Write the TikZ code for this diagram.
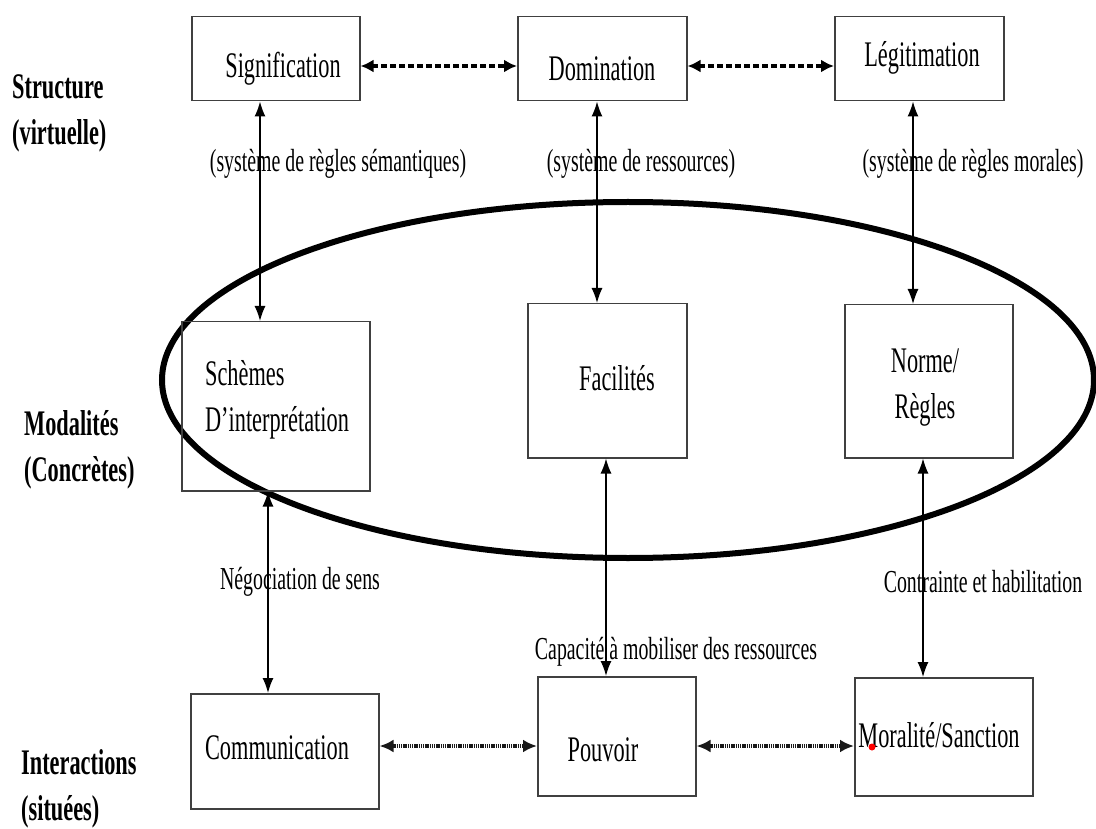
\documentclass[tikz,border=0pt]{standalone}
\usepackage{fontspec}
\setmainfont{Liberation Serif}[FakeStretch=0.62]
\usetikzlibrary{arrows.meta}
\begin{document}
\begin{tikzpicture}[x=1pt,y=-1pt,
  box/.style={draw=black!75, line width=1.5pt, inner sep=0pt, anchor=north west},
  lbl/.style={inner sep=0pt, font=\fontsize{36}{46}\selectfont, align=left},
  captxt/.style={inner sep=0pt, font=\fontsize{32}{40}\selectfont},
  side/.style={inner sep=0pt, anchor=west, font=\fontsize{36}{46}\selectfont\bfseries, align=left},
  varrow/.style={line width=1.4pt, {Latex[length=15pt,width=11pt]}-{Latex[length=15pt,width=11pt]}},
  darrow/.style={line width=3.4pt, dash pattern=on 6pt off 3pt, {Latex[length=13pt,width=13pt]}-{Latex[length=13pt,width=13pt]}},
  parrow/.style={line width=3.2pt, black!90, dash pattern=on 1.5pt off 0.7pt, {Latex[length=14pt,width=13pt]}-{Latex[length=14pt,width=13pt]}}
]
\useasboundingbox (0,0) rectangle (1096,829);
\fill[white] (0,0) rectangle (1096,829);

% ellipse
\draw[line width=6pt] (628,380) ellipse [x radius=466pt, y radius=178pt];

% boxes
\node[box, minimum width=168pt, minimum height=84pt] (sig) at (191,16) {};
\node[box, minimum width=169pt, minimum height=84pt] (dom) at (517,16) {};
\node[box, minimum width=169pt, minimum height=84pt] (leg) at (834,16) {};
\node[box, minimum width=188pt, minimum height=169pt] (sch) at (181,321) {};
\node[box, minimum width=159pt, minimum height=154pt] (fac) at (527,303) {};
\node[box, minimum width=168pt, minimum height=153pt] (nor) at (844,304) {};
\node[box, minimum width=188pt, minimum height=115pt] (com) at (190,693) {};
\node[box, minimum width=158pt, minimum height=119pt] (pou) at (537,676) {};
\node[box, minimum width=178pt, minimum height=118pt] (mor) at (854,677) {};

% box texts
\node[lbl] (tsig) at (283,69) {Signification};
\node[lbl] (tdom) at (602,69) {Domination};
\node[lbl] (tleg) at (922,58) {Légitimation};
\node[lbl] (tsch) at (277,400) {Schèmes\\D’interprétation};
\node[lbl] (tfac) at (617,378) {Facilités};
\node[lbl, align=center] (tnor) at (925,388) {Norme/\\Règles};
\node[lbl] (tcom) at (277,748) {Communication};
\node[lbl] (tpou) at (603,750) {Pouvoir};
\node[lbl] (tmor) at (939,735) {Moralité/Sanction};

% side labels
\node[side] (s1) at (12,113) {Structure\\(virtuelle)};
\node[side] (s2) at (24,450) {Modalités\\(Concrètes)};
\node[side] (s3) at (21,789) {Interactions\\(situées)};

% captions
\node[captxt] (c1) at (338,164) {(système de règles sémantiques)};
\node[captxt] (c2) at (641,164) {(système de ressources)};
\node[captxt] (c3) at (973,164) {(système de règles morales)};
\node[captxt] (c4) at (300,582) {Négociation de sens};
\node[captxt] (c5) at (676,652) {Capacité à mobiliser des ressources};
\node[captxt] (c6) at (983,582) {Contrainte et habilitation};

% vertical arrows
\draw[varrow] (sig.south -| 260,0) -- (sch.north -| 260,0);
\draw[varrow] (dom.south -| 597,0) -- (fac.north -| 597,0);
\draw[varrow] (leg.south -| 913,0) -- (nor.north -| 913,0);
\draw[varrow] (sch.south -| 268,0) -- (com.north -| 268,0);
\draw[varrow] (fac.south -| 606,0) -- (pou.north -| 606,0);
\draw[varrow] (nor.south -| 923,0) -- (mor.north -| 923,0);

% horizontal arrows
\draw[darrow] (sig.east |- 0,66) -- (dom.west |- 0,66);
\draw[darrow] (dom.east |- 0,66) -- (leg.west |- 0,66);
\draw[parrow] (com.east |- 0,746) -- (pou.west |- 0,746);
\draw[parrow] (pou.east |- 0,746) -- (mor.west |- 0,746);

% red dot
\fill[red] (872,747) circle (3.5pt);
\end{tikzpicture}
\end{document}
